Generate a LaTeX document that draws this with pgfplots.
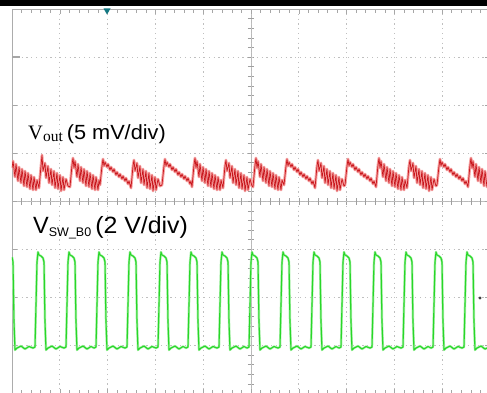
\documentclass[border=0pt]{standalone}
\usepackage{pgfplots}
\pgfplotsset{compat=1.18}
\usepackage{pgfplotstable}
\usepackage{fontspec}
\setmainfont{Liberation Serif}
\setsansfont{Liberation Sans}
\definecolor{trred}{RGB}{200,22,28}
\definecolor{trredhalo}{RGB}{246,160,160}
\definecolor{trgreen}{RGB}{40,215,40}
\definecolor{trgreenhalo}{RGB}{170,240,170}
\definecolor{mkteal}{RGB}{20,120,130}

% Vout ripple (x, y in screen pixels; y grows downward)
\pgfplotstableread{
x y
12 168
13 161
15 177
16 164
18 181
19 167
21 183
22 169
24 186
25 171
27 187
28 173
30 189
31 175
33 190
34 177
36 190
37 180
39 188
41 166
42 155
43 171
45 163
46 178
48 166
49 183
51 169
52 185
54 171
55 188
57 173
58 189
60 175
61 191
63 177
64 190
66 179
68 186
70 187
72 165
73 158
74 168
75 161
77 177
78 164
80 181
81 167
83 183
84 169
86 186
87 171
89 187
90 173
92 189
93 175
95 190
96 177
98 190
99 180
100 185
102 166
103 159
104 166
105 162
107 167
108 164
110 170
111 167
113 172
114 169
116 175
117 172
119 177
120 174
122 179
123 176
125 181
126 178
128 184
129 181
131 188
133 166
134 160
135 171
137 163
138 178
140 166
141 183
143 169
144 185
146 171
147 188
149 173
150 189
152 175
153 191
155 177
156 190
158 179
160 186
162 185
164 166
165 159
166 166
167 162
169 167
170 164
172 170
173 167
175 172
176 169
178 175
179 172
181 177
182 174
184 179
185 176
187 181
188 178
190 184
191 181
192 187
194 165
195 158
196 168
197 161
199 177
200 164
202 181
203 167
205 183
206 169
208 186
209 171
211 187
212 173
214 189
215 175
217 190
218 177
220 190
221 180
223 188
225 166
226 160
227 171
229 163
230 178
232 166
233 183
235 169
236 185
238 171
239 188
241 173
242 189
244 175
245 191
247 177
248 190
250 179
252 186
253 187
255 165
256 158
257 168
258 161
260 177
261 164
263 181
264 167
266 183
267 169
269 186
270 171
272 187
273 173
275 189
276 175
278 190
279 177
281 190
282 180
284 185
286 166
287 159
288 166
289 162
291 167
292 164
294 170
295 167
297 172
298 169
300 175
301 172
303 177
304 174
306 179
307 176
309 181
310 178
312 184
313 181
315 188
317 166
318 160
319 171
321 163
322 178
324 166
325 183
327 169
328 185
330 171
331 188
333 173
334 189
336 175
337 191
339 177
340 190
342 179
344 186
345 185
347 166
348 159
349 166
350 162
352 167
353 164
355 170
356 167
358 172
359 169
361 175
362 172
364 177
365 174
367 179
368 176
370 181
371 178
373 184
374 181
376 187
378 165
379 158
380 168
381 161
383 177
384 164
386 181
387 167
389 183
390 169
392 186
393 171
395 187
396 173
398 189
399 175
401 190
402 177
404 190
405 180
407 188
409 166
410 160
411 171
413 163
414 178
416 166
417 183
419 169
420 185
422 171
423 188
425 173
426 189
428 175
429 191
431 177
432 190
434 179
436 186
437 185
439 166
440 159
441 166
442 162
444 167
445 164
447 170
448 167
450 172
451 169
453 175
454 172
456 177
457 174
459 179
460 176
462 181
463 178
465 184
466 181
468 187
470 165
471 158
472 168
473 161
475 177
476 164
478 181
479 167
481 183
482 169
484 186
485 171
487 187
488 173
}\redtab

% V_SW_B0 switching node
\pgfplotstableread{
x y
12 257
13 262
14 322
15 350
17 348
21 346
25 349
29 346.5
33 348
35 347
37 262
38 252
39 255
41 256
43 258
44 262
45 322
46 350
48 348
52 346
56 349
60 346.5
64 348
66 347
68 262
69 252
70 255
72 256
74 258
75 262
76 322
77 350
79 348
83 346
87 349
91 346.5
94 348
96 347
98 262
99 252
100 255
102 256
104 258
105 262
106 322
107 350
109 348
113 346
117 349
121 346.5
125 348
127 347
129 262
130 252
131 255
133 256
135 258
136 262
137 322
138 350
140 348
144 346
148 349
152 346.5
156 348
158 347
160 262
161 252
162 255
164 256
166 258
167 262
168 322
169 350
171 348
175 346
179 349
183 346.5
186 348
188 347
190 262
191 252
192 255
194 256
196 258
197 262
198 322
199 350
201 348
205 346
209 349
213 346.5
217 348
219 347
221 262
222 252
223 255
225 256
227 258
228 262
229 322
230 350
232 348
236 346
240 349
244 346.5
247 348
249 347
251 262
252 252
253 255
255 256
257 258
258 262
259 322
260 350
262 348
266 346
270 349
274 346.5
278 348
280 347
282 262
283 252
284 255
286 256
288 258
289 262
290 322
291 350
293 348
297 346
301 349
305 346.5
309 348
311 347
313 262
314 252
315 255
317 256
319 258
320 262
321 322
322 350
324 348
328 346
332 349
336 346.5
339 348
341 347
343 262
344 252
345 255
347 256
349 258
350 262
351 322
352 350
354 348
358 346
362 349
366 346.5
370 348
372 347
374 262
375 252
376 255
378 256
380 258
381 262
382 322
383 350
385 348
389 346
393 349
397 346.5
401 348
403 347
405 262
406 252
407 255
409 256
411 258
412 262
413 322
414 350
416 348
420 346
424 349
428 346.5
431 348
433 347
435 262
436 252
437 255
439 256
441 258
442 262
443 322
444 350
446 348
450 346
454 349
458 346.5
462 348
464 347
466 262
467 252
468 255
470 256
472 258
473 262
474 322
475 350
477 348
481 346
485 349
489 347
}\greentab

\begin{document}
\begin{tikzpicture}[x=1pt,y=1pt]
\useasboundingbox (0,0) rectangle (487,392);
% centre crosshair with its ticks
\draw[gray!55, line width=0.6pt] (251,-1.5) -- (251,383);
\draw[gray!55, line width=0.6pt] (12,190.75) -- (490,190.75);
\foreach \i in {1,...,49} {\draw[gray!75, line width=0.6pt] ({12+9.56*\i},187.5) -- ({12+9.56*\i},194);}
\foreach \i in {1,...,39} {\draw[gray!75, line width=0.6pt] (247.8,{383-9.612*\i}) -- (254.2,{383-9.612*\i});}
\begin{axis}[
  at={(12pt,-1.5pt)}, anchor=south west,
  scale only axis, width=478pt, height=384.5pt,
  xmin=12, xmax=490, ymin=9, ymax=393.5, y dir=reverse,
  axis line style={gray!65, line width=0.8pt},
  xtick={12,59.8,107.6,155.4,203.2,251,298.8,346.6,394.4,442.2,490},
  ytick={9,57.06,105.12,153.19,201.25,249.31,297.37,345.44,393.5},
  xticklabels={}, yticklabels={},
  minor x tick num=4, minor y tick num=4,
  tick align=inside, xtick pos=both, ytick pos=both,
  major tick length=5pt, minor tick length=4pt,
  tick style={gray!70, line width=0.6pt},
  grid=major,
  major grid style={gray!50, line width=0.8pt, dash pattern=on 1.1pt off 3.7pt},
  clip=true,
]
\addplot[trredhalo, line width=2.8pt, line join=round] table[x=x,y=y] {\redtab};
\addplot[trred, line width=0.7pt, line join=round] table[x=x,y=y] {\redtab};
\addplot[trgreenhalo, line width=2.4pt, line join=round] table[x=x,y=y] {\greentab};
\addplot[trgreen, line width=1.1pt, line join=round] table[x=x,y=y] {\greentab};
\end{axis}
% top black band of the screenshot
\fill[black] (0,386) rectangle (487,392);
% markers
\fill[mkteal] (103.5,383.5) -- (110.5,383.5) -- (107,377.5) -- cycle;
\fill[gray!50!black] (480,94) circle (1.6);
\draw[gray!70, line width=1.4pt] (12,335) -- (20,335);
% labels
\node[anchor=base west, inner sep=0pt] at (28,253)
  {\fontsize{20.5}{24}\selectfont V\raisebox{-2.5pt}{\fontsize{15.5}{15.5}\selectfont out}\hspace{4pt}\sffamily\scalebox{1.06}[1]{(5 mV/div)}};
\node[anchor=base west, inner sep=0pt] at (33,159)
  {\sffamily\fontsize{23.5}{26}\selectfont V\raisebox{-3.5pt}{\fontsize{12.5}{12.5}\selectfont SW\_B0}\hspace{4pt}\scalebox{1.06}[1]{(2 V/div)}};
\end{tikzpicture}
\end{document}
